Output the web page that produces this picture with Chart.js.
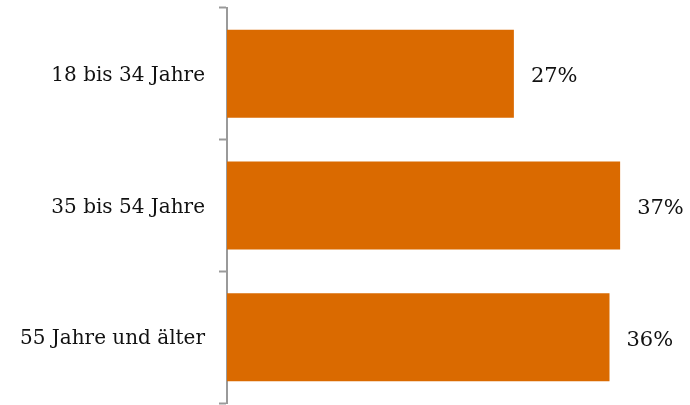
<!DOCTYPE html>
<html>
<head>
<meta charset="utf-8">
<script src="https://cdn.jsdelivr.net/npm/chart.js@4/dist/chart.umd.min.js"></script>
<style>
  html, body { margin: 0; padding: 0; background: #ffffff; }
  #wrap { width: 690px; height: 405px; }
</style>
</head>
<body>
<div id="wrap"><canvas id="c" width="690" height="405"></canvas></div>
<script>
// Age groups and their shares (percent)
const categories = ['18 bis 34 Jahre', '35 bis 54 Jahre', '55 Jahre und älter'];
const shares = [27, 37, 36];

const BAR_COLOR = '#DA6A00';
const AXIS_COLOR = '#9a9a9a';
const TEXT_COLOR = '#111111';
const SERIF = '"DejaVu Serif", "Liberation Serif", serif';

// Writes the percentage just past the end of each bar
const valueLabels = {
  id: 'valueLabels',
  afterDatasetsDraw(chart) {
    const ctx = chart.ctx;
    const meta = chart.getDatasetMeta(0);
    ctx.save();
    ctx.font = '21px ' + SERIF;
    ctx.fillStyle = TEXT_COLOR;
    ctx.textAlign = 'left';
    ctx.textBaseline = 'middle';
    meta.data.forEach((bar, i) => {
      ctx.fillText(shares[i] + '%', bar.x + 17, bar.y + 3);
    });
    ctx.restore();
  }
};

new Chart(document.getElementById('c'), {
  type: 'bar',
  data: {
    labels: categories,
    datasets: [{
      data: shares,
      backgroundColor: BAR_COLOR,
      borderWidth: 0,
      categoryPercentage: 1,
      barPercentage: 0.668
    }]
  },
  options: {
    indexAxis: 'y',
    responsive: false,
    animation: false,
    devicePixelRatio: 1,
    layout: { padding: { top: 8, bottom: 2, right: 38, left: 0 } },
    plugins: {
      legend: { display: false },
      tooltip: { enabled: false }
    },
    scales: {
      x: {
        min: 0,
        max: 40,
        display: false
      },
      y: {
        offset: true,
        afterFit(scale) {
          scale.width = 227;
          scale.paddingTop = 0;
          scale.paddingBottom = 0;
        },
        border: { display: true, color: AXIS_COLOR, width: 2 },
        grid: {
          offset: true,
          drawOnChartArea: false,
          drawTicks: true,
          tickLength: 8,
          tickWidth: 2,
          tickColor: AXIS_COLOR,
          color: AXIS_COLOR
        },
        ticks: {
          color: TEXT_COLOR,
          padding: 14,
          labelOffset: 2,
          font: { family: SERIF, size: 20 }
        }
      }
    }
  },
  plugins: [valueLabels]
});
</script>
</body>
</html>
